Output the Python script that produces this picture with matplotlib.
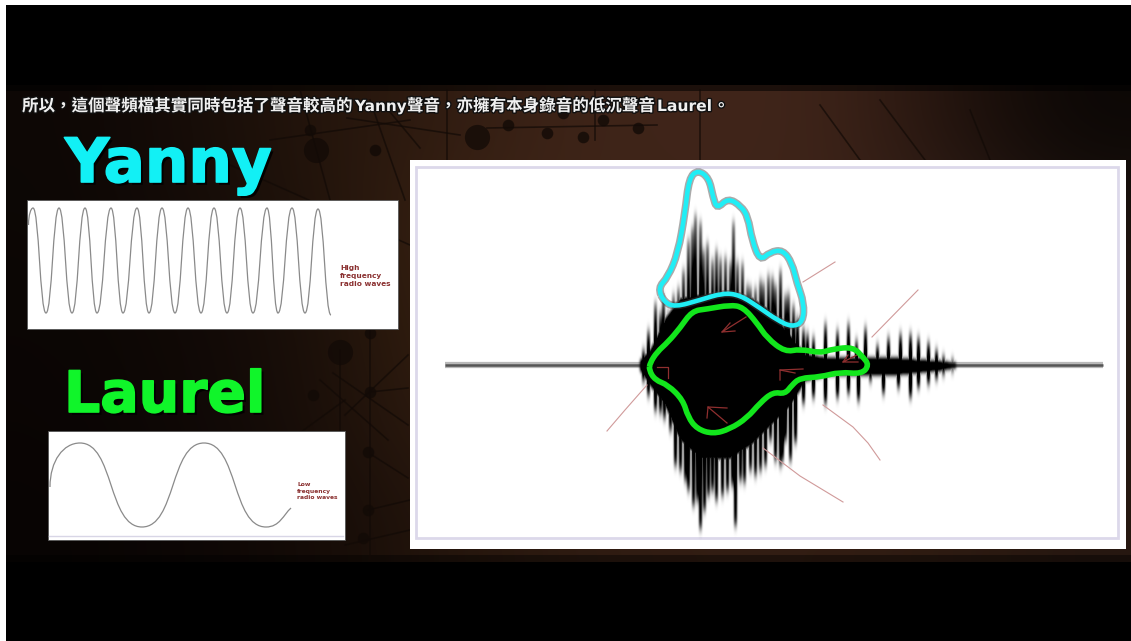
import numpy as np
import matplotlib
matplotlib.use("Agg")
import matplotlib.pyplot as plt
import matplotlib.patheffects as pe
from matplotlib.path import Path
from matplotlib.patches import Rectangle, PathPatch

plt.rcParams['font.family'] = ['Noto Sans CJK TC', 'DejaVu Sans']

# title pieces: the latin words are wider than the CJK font makes them
title_cjk = [(22, "所以\uff0c這個聲頻檔其實同時包括了聲音較高的"), (407, "聲音\uff0c亦擁有本身錄音的低沉聲音"), (713, "\u3002")]
title_latin = [(355, "Yanny", 11.0), (657, "Laurel", 11.2)]
high_label = "High\nfrequency\nradio waves"
low_label = "Low\nfrequency\nradio waves"

# background tones, rough grid
bg_tones = [
    ["#0d0705", "#170d08", "#24150c", "#301c11", "#3e2418", "#40251a", "#40251a", "#24140e", "#0b0705"],
    ["#0c0705", "#140b07", "#20130b", "#3a2212", "#3e2518", "#3e2418", "#3e2418", "#32201a", "#1e140f"],
    ["#0b0604", "#100906", "#1a0f09", "#36200f", "#3e2518", "#3e2418", "#3e2418", "#32201a", "#221710"],
    ["#0a0504", "#0f0806", "#1a0f09", "#301c10", "#3a2318", "#3e2418", "#3e2418", "#32201a", "#221710"],
    ["#080403", "#0d0705", "#140b07", "#24150c", "#2e1b11", "#321d13", "#321d13", "#2e1b11", "#261710"],
]

# branches in the background (x0, y0, x1, y1)
net_lines = [
    (347, 118, 460, 135), (487, 128, 657, 125), (447, 90, 447, 160), (595, 90, 595, 140),
    (390, 112, 420, 148), (700, 90, 700, 160), (370, 330, 370, 560), (333, 373, 408, 425),
    (320, 380, 388, 440), (340, 350, 340, 432), (370, 392, 408, 388), (372, 455, 408, 478),
    (345, 415, 408, 355), (230, 165, 410, 245), (300, 90, 330, 200), (370, 100, 405, 200),
    (270, 140, 410, 120), (290, 440, 345, 400), (368, 510, 410, 500), (345, 545, 410, 530),
    (880, 100, 925, 160), (970, 110, 990, 160), (820, 105, 860, 160),
]
net_big_x = [340, 477, 316]
net_big_y = [352, 137, 150]
net_small_x = [370, 313, 368, 368, 363, 370, 508, 547, 603, 638, 583, 563, 375, 310]
net_small_y = [392, 395, 452, 510, 538, 333, 125, 133, 120, 128, 137, 113, 150, 130]

# top-left wave: peaks and troughs
yanny_x = [28.5, 33, 46, 59, 72, 85, 97, 111, 123, 137, 149, 162, 175, 188, 201, 214, 227, 240, 253, 267, 278, 292, 305, 318, 331]
yanny_y = [225, 208, 313, 208, 313, 208, 313, 208, 313, 208, 313, 208, 313, 208, 313, 208, 313, 208, 313, 208, 313, 208, 313, 209, 315]

laurel_x = [50, 80, 142, 204, 266, 291]
laurel_y = [487, 443, 527, 443, 527, 508]

# speech waveform, spike tips above and below the middle line
spike_up_x = [643, 648, 655, 660, 663, 668, 673, 678, 683, 688, 692, 695, 700, 703, 707, 712, 716, 720, 725, 730, 733, 737, 742, 747, 750, 755, 760, 763, 768, 772, 775, 780, 785, 788, 793, 797, 803, 807, 813, 825, 837, 848, 856, 865, 877, 888, 900, 910, 918, 928, 936, 943, 952]
spike_up_y = [350, 330, 303, 312, 297, 312, 295, 288, 270, 240, 228, 215, 222, 250, 243, 260, 250, 258, 257, 262, 222, 262, 263, 285, 287, 288, 280, 283, 275, 277, 285, 270, 295, 293, 305, 317, 328, 333, 337, 323, 330, 323, 340, 327, 345, 337, 333, 333, 337, 342, 350, 357, 361]
spike_dn_x = [643, 648, 655, 660, 664, 670, 675, 680, 685, 688, 693, 697, 700, 704, 708, 712, 716, 722, 727, 732, 735, 740, 744, 750, 755, 760, 765, 770, 775, 780, 782, 785, 790, 795, 803, 813, 825, 837, 848, 858, 870, 883, 898, 910, 918, 928, 936, 943, 952]
spike_dn_y = [380, 395, 410, 412, 418, 430, 465, 470, 480, 490, 505, 500, 528, 510, 495, 490, 500, 495, 490, 485, 525, 480, 482, 470, 475, 470, 465, 440, 460, 465, 460, 440, 460, 442, 403, 397, 403, 397, 393, 400, 380, 393, 387, 397, 387, 383, 378, 373, 369]

# solid part of the waveform
body_x = [640, 650, 665, 680, 700, 730, 750, 770, 790, 805, 830, 900, 940, 955]
body_top = [360, 350, 318, 298, 294, 294, 297, 310, 335, 354, 358, 358, 361, 363]
body_bot = [370, 385, 405, 440, 458, 458, 445, 425, 405, 380, 374, 374, 370, 367]

# hand-drawn outlines
green_x = [650, 657, 668, 680, 692, 707, 730, 743, 757, 767, 785, 800, 820, 833, 853, 863, 869, 862, 840, 820, 800, 792, 785, 773, 760, 747, 730, 713, 697, 688, 683, 668, 655, 649]
green_y = [363, 352, 342, 328, 311, 309, 305, 307, 323, 338, 352, 349, 353, 349, 347, 357, 365, 374, 372, 377, 378, 385, 394, 392, 403, 418, 429, 434, 429, 417, 400, 385, 380, 370]
cyan_x = [658, 668, 678, 685, 689, 698, 709, 713, 717, 728, 741, 748, 752, 760, 770, 783, 792, 797, 804, 803, 792, 777, 760, 740, 723, 700, 675, 664]
cyan_y = [288, 277, 253, 213, 178, 170, 178, 197, 209, 198, 206, 217, 240, 261, 252, 250, 263, 283, 303, 322, 327, 320, 308, 295, 293, 300, 307, 302]

# thin red strokes around the waveform
red_strokes = [
    ([835, 803], [262, 282]),
    ([918, 872], [290, 337]),
    ([607, 625, 647], [431, 410, 385]),
    ([880, 868, 853, 838, 823], [460, 443, 427, 416, 405]),
    ([843, 800, 763], [502, 476, 448]),
]
# small arrows on the black part
red_arrows = [
    ([746, 722, 735], [317, 332, 331]), ([722, 730], [332, 323]),
    ([657, 668, 668], [367, 367, 378]),
    ([803, 780, 780], [369, 370, 380]), ([780, 795], [370, 373]),
    ([727, 708, 707], [423, 407, 418]), ([708, 727], [407, 408]),
    ([857, 843, 858], [355, 362, 362]), ([843, 848], [362, 355]),
]


def smooth_closed(xs, ys):
    # quadratic curve through the midpoints, closes on itself
    pts = list(zip(xs, ys))
    mids = [((a[0] + b[0]) / 2, (a[1] + b[1]) / 2) for a, b in zip(pts, pts[1:] + pts[:1])]
    verts = [mids[-1]]
    codes = [Path.MOVETO]
    for p, m in zip(pts, mids):
        verts += [p, m]
        codes += [Path.CURVE3, Path.CURVE3]
    return Path(verts, codes)


def wave_path(xs, ys, round_k, open_end=False):
    # flat tangents at peaks and troughs, upright at the start
    verts = [(xs[0], ys[0])]
    codes = [Path.MOVETO]
    n = len(xs) - 1
    for i in range(n):
        dx = xs[i + 1] - xs[i]
        c1 = (xs[i] + dx * round_k, ys[i])
        c2 = (xs[i + 1] - dx * round_k, ys[i + 1])
        if i == 0:
            c1 = (xs[0], ys[0] + (ys[1] - ys[0]) * 0.6)
        if open_end and i == n - 1:
            c2 = (xs[i + 1] - dx * 0.3, ys[i + 1] + (ys[i] - ys[i + 1]) * 0.35)
        verts += [c1, c2, (xs[i + 1], ys[i + 1])]
        codes += [Path.CURVE4] * 3
    return Path(verts, codes)


def blur(a, sigma, axis):
    r = int(sigma * 3) + 1
    k = np.exp(-0.5 * (np.arange(-r, r + 1) / sigma) ** 2)
    k /= k.sum()
    return np.apply_along_axis(lambda v: np.convolve(v, k, mode="same"), axis, a)


def waveform_image(x0, x1, y0, y1, mid):
    # paints the spikes in a pixel grid and softens them like the blurry original
    d = np.zeros((y1 - y0, x1 - x0))
    for x, tip in zip(spike_up_x, spike_up_y):
        span = np.arange(tip, mid)
        d[tip - y0:mid - y0, x - x0 - 1:x - x0 + 2] = (1 - 0.7 * ((mid - span) / (mid - tip)) ** 2)[:, None]
    for x, tip in zip(spike_dn_x, spike_dn_y):
        span = np.arange(mid, tip)
        d[mid - y0:tip - y0, x - x0 - 1:x - x0 + 2] = (1 - 0.4 * ((span - mid) / (tip - mid)) ** 2)[:, None]
    d = blur(blur(d, 0.9, 1), 5.0, 0)
    cols = np.arange(x0, x1)
    top = np.interp(cols, body_x, body_top, left=mid + 1, right=mid + 1)
    bot = np.interp(cols, body_x, body_bot, left=mid - 1, right=mid - 1)
    rows = np.arange(y0, y1)[:, None]
    solid = np.zeros_like(d)
    solid[(rows >= top) & (rows <= bot)] = 1
    solid = blur(blur(solid, 1.2, 1), 2.5, 0)
    return np.clip(np.maximum(d * 1.6, solid * 1.3), 0, 1)


fig = plt.figure(figsize=(11.31, 6.41), dpi=100, facecolor="white")
ax = fig.add_axes([0, 0, 1, 1])

# frame and backdrop
ax.add_patch(Rectangle((6, 5), 1125, 636, fc="black", ec="none"))
rgb = np.array([[matplotlib.colors.to_rgb(c) for c in row] for row in bg_tones])
ax.imshow(rgb, extent=(6, 1131, 562, 85), interpolation="bicubic", aspect="auto", zorder=1)
ax.add_patch(Rectangle((6, 85), 1125, 6, fc="black", ec="none", alpha=0.55, zorder=1.5))
ax.add_patch(Rectangle((6, 555), 1125, 7, fc="black", ec="none", alpha=0.4, zorder=1.5))
for x0, y0, x1, y1 in net_lines:
    ax.plot([x0, x1], [y0, y1], color="#120a06", lw=1.2, alpha=0.7, zorder=2)
ax.scatter(net_small_x, net_small_y, s=70, color="#120a06", alpha=0.8, lw=0, zorder=2)
ax.scatter(net_big_x, net_big_y, s=330, color="#120a06", alpha=0.75, lw=0, zorder=2)

# white panels
ax.add_patch(Rectangle((410, 160), 716, 389, fc="white", ec="none", zorder=3))
ax.add_patch(Rectangle((416, 167), 702, 371, fc="white", ec="#dcd8ea", lw=2, zorder=3))
ax.add_patch(Rectangle((27, 200), 371, 129, fc="white", ec="#555555", lw=0.6, zorder=3))
ax.add_patch(Rectangle((48, 431), 297, 109, fc="white", ec="#555555", lw=0.6, zorder=3))
ax.plot([49, 343], [536, 536], color="#d8d6e6", lw=1, zorder=3)

# sample waves
ax.add_patch(PathPatch(wave_path(yanny_x, yanny_y, 0.46), fc="none", ec="#8a8a8a", lw=0.9, zorder=4))
ax.add_patch(PathPatch(wave_path(laurel_x, laurel_y, 0.55, open_end=True), fc="none", ec="#8a8a8a", lw=0.9, zorder=4))

# waveform: middle line then the blurred spikes
mid = 365
ax.plot([445, 1103], [mid, mid], color="#a8a8a8", lw=4.5, alpha=0.8, solid_capstyle="butt", zorder=4)
ax.plot([445, 1103], [mid, mid], color="#555555", lw=1.8, solid_capstyle="butt", zorder=4)
wf = waveform_image(600, 1000, 160, 545, mid)
wf_rgba = np.zeros(wf.shape + (4,))
wf_rgba[..., 3] = wf
ax.imshow(wf_rgba, extent=(600, 1000, 545, 160), interpolation="bilinear", aspect="auto", zorder=5)

# red marks
for sx, sy in red_strokes:
    ax.plot(sx, sy, color="#d09a9a", lw=0.8, zorder=6)
for sx, sy in red_arrows:
    ax.plot(sx, sy, color="#8f2f2f", lw=0.9, zorder=6)

# outlines with a soft dark edge
glow = [pe.Stroke(linewidth=5.5, foreground="#444444", alpha=0.45), pe.Normal()]
ax.add_patch(PathPatch(smooth_closed(cyan_x, cyan_y), fc="none", ec="#20eef5", lw=3.3, zorder=7, path_effects=glow))
ax.add_patch(PathPatch(smooth_closed(green_x, green_y), fc="none", ec="#12e61c", lw=4.0, zorder=7))

# text
shadow = [pe.withStroke(linewidth=2, foreground="#111111")]
for x, s in title_cjk:
    ax.text(x, 106, s, color="#f0f0f0", fontsize=11.9, fontweight="bold", va="center", ha="left",
            zorder=8, path_effects=shadow)
for x, s, size in title_latin:
    ax.text(x, 111, s, color="#f0f0f0", fontsize=size, fontweight="bold", family="DejaVu Sans",
            va="baseline", ha="left", zorder=8, path_effects=shadow)


def heavy(colour):
    return [pe.withSimplePatchShadow(offset=(2, -2), shadow_rgbFace="black", alpha=0.9),
            pe.withStroke(linewidth=1.2, foreground=colour)]


ax.text(65, 182, "Yanny", color="#12f0f5", fontsize=44, fontweight="bold", family="DejaVu Sans",
        va="baseline", ha="left", zorder=8, path_effects=heavy("#12f0f5"))
ax.text(64, 412, "Laurel", color="#10f52a", fontsize=41, fontweight="bold", family="DejaVu Sans",
        va="baseline", ha="left", zorder=8, path_effects=heavy("#10f52a"))
ax.text(340, 276, high_label, color="#8a3030", fontsize=5.3, fontweight="bold", family="DejaVu Sans",
        va="center", ha="left", linespacing=1.35, zorder=8)
ax.text(297, 491, low_label, color="#8a3030", fontsize=4.3, fontweight="bold", family="DejaVu Sans",
        va="center", ha="left", linespacing=1.35, zorder=8)

ax.set_xlim(0, 1131)
ax.set_ylim(641, 0)
ax.axis("off")

plt.savefig("out.png", dpi=100)
